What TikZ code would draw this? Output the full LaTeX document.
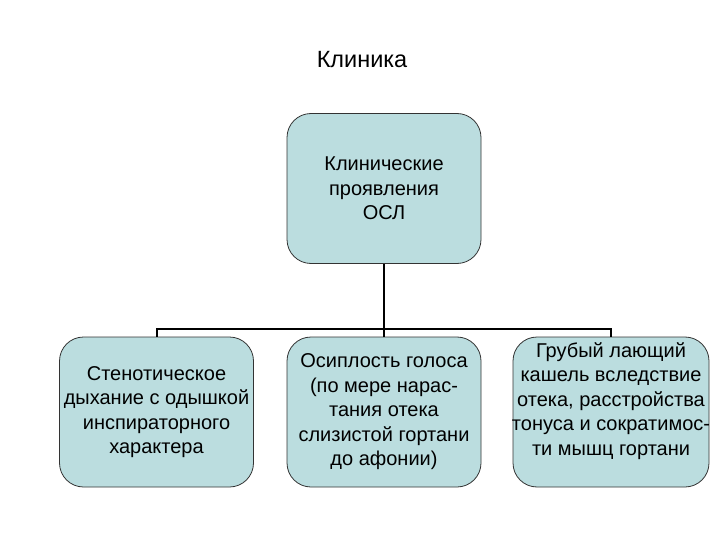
\documentclass[tikz,border=0pt]{standalone}
\usepackage{fontspec}
\setmainfont{Liberation Sans}
\begin{document}
\begin{tikzpicture}[x=1pt,y=-1pt,
  boxst/.style={draw=black!80, line width=0.8pt, fill=boxfill, rounded corners=24pt,
    minimum width=194pt, minimum height=150pt, align=center, inner sep=0pt,
    font=\fontsize{20}{24.5}\selectfont},
  txt/.style={align=center, inner sep=0pt, font=\fontsize{20}{24.5}\selectfont},
  conn/.style={line width=2pt, black}]
\definecolor{boxfill}{HTML}{BBDDDF}
\useasboundingbox (0,0) rectangle (720,540);
\node[font=\fontsize{23.5}{28}\selectfont] (title) at (362,60) {Клиника};
\node[boxst] (top) at (384,188.5) {Клинические\\проявления\\ОСЛ};
\node[boxst] (left) at (156.5,412) {Стенотическое\\дыхание с одышкой\\инспираторного\\характера};
\node[boxst] (mid) at (384,412) {Осиплость голоса\\(по мере нарас-\\тания отека\\слизистой гортани\\до афонии)};
\node[boxst, minimum width=196pt] (right) at (611,412) {};
\node[txt] (righttext) at (611,401) {Грубый лающий\\кашель вследствие\\отека, расстройства\\тонуса и сократимос-\\ти мышц гортани};
\coordinate (bus) at (384,329);
\draw[line width=2.6pt] (top.south) -- (bus);
\draw[conn] (left.north) -- (left.north |- bus) -- (right.north |- bus) -- (right.north);
\draw[conn] (bus) -- (mid.north);
\end{tikzpicture}
\end{document}
